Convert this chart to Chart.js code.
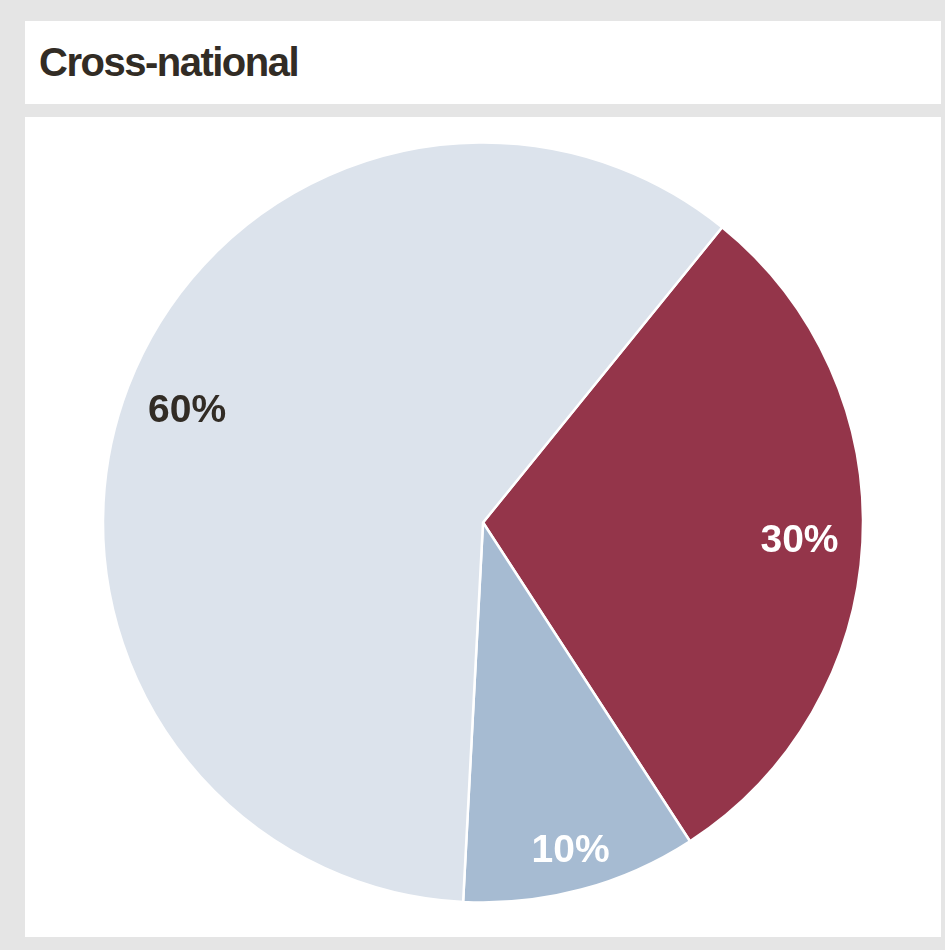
<!DOCTYPE html>
<html>
<head>
<meta charset="utf-8">
<script src="https://cdn.jsdelivr.net/npm/chart.js@4/dist/chart.umd.min.js"></script>
<style>
  html, body { margin: 0; padding: 0; background: #e5e5e5; width: 945px; height: 950px; overflow: hidden; }
  #header { position: absolute; left: 25px; top: 21px; width: 916px; height: 83px; background: #fff; }
  #title { position: absolute; left: 14px; top: 21px; font-family: "Liberation Sans", Arial, sans-serif; font-weight: bold;
           font-size: 40px; line-height: 40px; letter-spacing: -1.5px; color: #322c25; white-space: nowrap; }
  #panel { position: absolute; left: 25px; top: 117px; width: 916px; height: 820px; background: #fff; }
  #wrap { position: absolute; left: 0; top: 0; width: 916px; height: 811px; }
</style>
</head>
<body>
<div id="header"><div id="title">Cross-national</div></div>
<div id="panel"><div id="wrap"><canvas id="pie"></canvas></div></div>
<script>
// Shares of the cross-national group, in drawing order (clockwise)
const categories = ["30%", "10%", "60%"];
const shares = [30, 10, 60];
const sliceColors = ["#94354a", "#a6bbd2", "#dce3ec"];
const labelColors = ["#ffffff", "#ffffff", "#322c25"];

// Writes each slice's share inside the slice
const sliceLabels = {
  id: "sliceLabels",
  afterDatasetsDraw(chart, args, opts) {
    const ctx = chart.ctx;
    const meta = chart.getDatasetMeta(0);
    ctx.save();
    ctx.font = "bold 39px 'Liberation Sans', Arial, sans-serif";
    ctx.textAlign = "center";
    ctx.textBaseline = "middle";
    meta.data.forEach((arc, i) => {
      const p = arc.getProps(["x", "y", "startAngle", "endAngle", "outerRadius"], true);
      const mid = (p.startAngle + p.endAngle) / 2;
      const r = p.outerRadius * opts.distance[i];
      ctx.fillStyle = labelColors[i];
      ctx.fillText(shares[i] + "%", p.x + Math.cos(mid) * r, p.y + Math.sin(mid) * r + 2);
    });
    ctx.restore();
  }
};

new Chart(document.getElementById("pie"), {
  type: "pie",
  data: {
    labels: categories,
    datasets: [{
      data: shares,
      backgroundColor: sliceColors,
      borderColor: "#ffffff",
      borderWidth: 2.5,
      hoverOffset: 0
    }]
  },
  options: {
    responsive: true,
    maintainAspectRatio: false,
    animation: false,
    rotation: 39,
    radius: 380,
    layout: { padding: 0 },
    plugins: {
      legend: { display: false },
      tooltip: { enabled: false },
      sliceLabels: { distance: [0.834, 0.89, 0.834] }
    }
  },
  plugins: [sliceLabels]
});
</script>
</body>
</html>
